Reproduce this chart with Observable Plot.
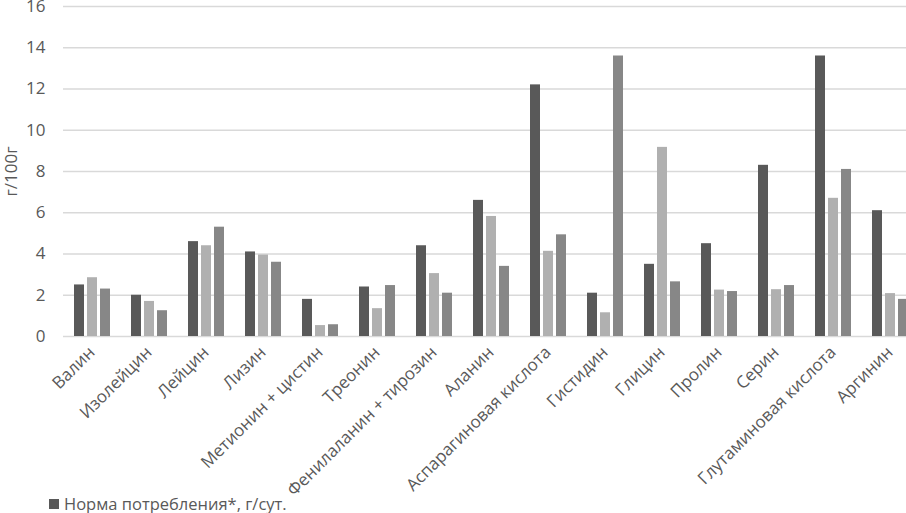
<!DOCTYPE html>
<html>
<head>
<meta charset="utf-8">
<script src="https://cdn.jsdelivr.net/npm/d3@7"></script>
<script src="https://cdn.jsdelivr.net/npm/@observablehq/plot@0.6"></script>
<style>
  html, body { margin: 0; padding: 0; overflow: hidden; background: #fff; width: 906px; height: 513px; }
  #chart svg { max-width: none !important; }
  #legend { position: absolute; left: 49px; top: 492px; font-family: "Open Sans", sans-serif; font-size: 16.5px; color: #595959; display: flex; align-items: center; background: transparent; }
  #legend .sw { width: 10px; height: 10px; background: #595959; margin-right: 5px; }
</style>
</head>
<body>
<div id="chart"></div>
<div id="legend"><span class="sw"></span><span>Норма потребления*, г/сут.</span></div>
<script>
const categories = ["Валин", "Изолейцин", "Лейцин", "Лизин", "Метионин + цистин", "Треонин", "Фенилаланин + тирозин", "Аланин", "Аспарагиновая кислота", "Гистидин", "Глицин", "Пролин", "Серин", "Глутаминовая кислота", "Аргинин"];
const seriesNames = ["Норма потребления*, г/сут.", "Ряд 2", "Ряд 3"];
const norma  = [2.5, 2.0, 4.6, 4.1, 1.8, 2.4, 4.4, 6.6, 12.2, 2.1, 3.5, 4.5, 8.3, 13.6, 6.1];
const series2 = [2.85, 1.7, 4.4, 3.95, 0.53, 1.35, 3.05, 5.82, 4.13, 1.15, 9.17, 2.25, 2.27, 6.7, 2.08];
const series3 = [2.3, 1.25, 5.3, 3.6, 0.57, 2.47, 2.1, 3.4, 4.93, 13.6, 2.65, 2.18, 2.47, 8.1, 1.8];
const colors = ["#595959", "#b0b0b0", "#878787"];
const yTicks = [0, 2, 4, 6, 8, 10, 12, 14, 16];

const seriesValues = [norma, series2, series3];
const data = categories.flatMap((c, i) => seriesNames.map((s, j) => ({category: c, series: s, value: seriesValues[j][i]})));

const chart = Plot.plot({
  width: 918,
  height: 513,
  marginLeft: 63,
  marginRight: 0,
  marginTop: 6,
  marginBottom: 177,
  style: {fontFamily: "Open Sans, sans-serif", fontSize: "16px", color: "#595959", background: "#fff", maxWidth: "none"},
  fx: {domain: categories, padding: 0, label: null},
  x: {domain: seriesNames, paddingInner: 0.245, paddingOuter: 0.8, axis: null},
  y: {domain: [0, 16], label: null},
  color: {domain: seriesNames, range: colors},
  marks: [
    Plot.ruleY(yTicks, {stroke: "#d9d9d9", strokeWidth: 1.5}),
    Plot.barY(data, {fx: "category", x: "series", y: "value", fill: "series"}),
    Plot.axisY(yTicks, {tickSize: 0, tickPadding: 18, label: "г/100г", labelAnchor: "center", labelOffset: 59, labelArrow: "none", fontSize: 17}),
    Plot.axisFx({anchor: "bottom", tickRotate: -45, tickSize: 0, tickPadding: 13, label: null, fontSize: 17})
  ]
});
document.getElementById("chart").appendChild(chart);
</script>
</body>
</html>
